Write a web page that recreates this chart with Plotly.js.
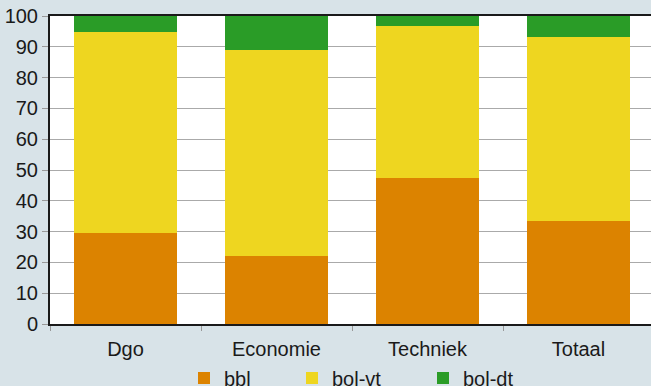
<!DOCTYPE html>
<html>
<head>
<meta charset="utf-8">
<script src="https://cdn.plot.ly/plotly-3.0.1.min.js"></script>
<style>
html,body{margin:0;padding:0;overflow:hidden;background:#d8e3e8;}
#chart{width:654px;height:386px;}
</style>
</head>
<body>
<div id="chart"></div>
<script>
var categories = ["Dgo", "Economie", "Techniek", "Totaal"];
var bbl = [29.5, 22.1, 47.4, 33.4];
var bolVt = [65.3, 66.9, 49.4, 59.8];
var bolDt = [5.2, 11.0, 3.2, 6.8];
var seriesNames = ["bbl", "bol-vt", "bol-dt"];
var yTicks = [0, 10, 20, 30, 40, 50, 60, 70, 80, 90, 100];

var colors = ["#dc8300", "#eed620", "#2a9c27"];
var seriesData = [bbl, bolVt, bolDt];
var legendIds = ["legend", "legend2", "legend3"];
var legendX = [184, 292, 423];

var traces = seriesData.map(function (vals, i) {
  return {
    type: "bar",
    name: seriesNames[i],
    x: categories,
    y: vals,
    marker: {color: colors[i]},
    legend: legendIds[i],
    hoverinfo: "none"
  };
});

var font = {family: "Liberation Sans, Arial, sans-serif", size: 20, color: "#1a1a1a"};

var layout = {
  width: 654,
  height: 386,
  margin: {l: 50, r: 0, t: 16, b: 62},
  paper_bgcolor: "#d8e3e8",
  plot_bgcolor: "#ffffff",
  barmode: "stack",
  bargap: 0.32,
  font: font,
  showlegend: true,
  xaxis: {
    type: "category",
    tickson: "boundaries",
    ticks: "outside",
    ticklen: 5,
    tickcolor: "#999999",
    tickwidth: 1,
    showline: true,
    linecolor: "#1a1a1a",
    linewidth: 2,
    mirror: true,
    showgrid: false,
    ticklabelstandoff: 6,
    tickfont: font
  },
  yaxis: {
    range: [0, 100],
    tickvals: yTicks,
    ticks: "outside",
    ticklen: 6,
    tickcolor: "#999999",
    showline: true,
    linecolor: "#1a1a1a",
    linewidth: 2,
    showgrid: true,
    gridcolor: "#aaaaaa",
    gridwidth: 1,
    zeroline: false,
    tickfont: font
  }
};

legendIds.forEach(function (id, i) {
  layout[id] = {
    orientation: "h",
    xref: "container",
    yref: "container",
    x: legendX[i] / 654,
    xanchor: "left",
    y: 1 - 378 / 386,
    yanchor: "middle",
    bgcolor: "rgba(0,0,0,0)",
    font: font,
    itemclick: false,
    itemdoubleclick: false
  };
});

Plotly.newPlot("chart", traces, layout, {displayModeBar: false, staticPlot: true});
</script>
</body>
</html>
